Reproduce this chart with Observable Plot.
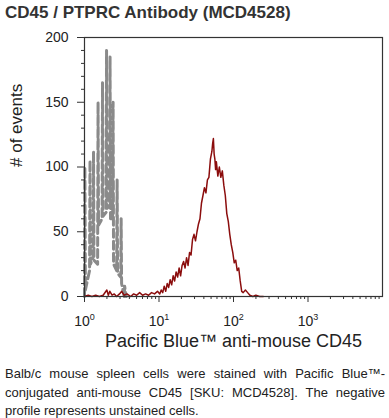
<!DOCTYPE html>
<html><head><meta charset="utf-8">
<script src="https://cdn.jsdelivr.net/npm/d3@7"></script>
<script src="https://cdn.jsdelivr.net/npm/@observablehq/plot@0.6"></script>
<style>
body{margin:0;background:#fff;font-family:"Liberation Sans",Arial,sans-serif;}
#title{font-weight:bold;font-size:17px;color:#333;padding:3px 0 0 5px;height:27px;box-sizing:border-box;}
#chart svg{display:block;}
#caption{font-size:13px;color:#222;margin:1px 4px 0 5px;line-height:18.5px;}
#caption .j{text-align:justify;text-align-last:justify;}
</style></head><body>
<div id="title">CD45 / PTPRC Antibody (MCD4528)</div>
<div id="chart"></div>
<div id="caption">
<div class="j">Balb/c mouse spleen cells were stained with Pacific Blue™-</div>
<div class="j">conjugated anti-mouse CD45 [SKU: MCD4528]. The negative</div>
<div>profile represents unstained cells.</div>
</div>
<script>
// Unstained (negative) profile: log10 fluorescence channel and event counts
const negLogX = [0.000,0.005,0.012, 0.068,0.074,0.080, 0.115,0.121,0.127, 0.176,0.182,0.188, 0.236,0.242,0.248, 0.290,0.296,0.302, 0.337,0.343,0.349, 0.378,0.384,0.390, 0.432,0.438,0.444, 0.486,0.492,0.498, 0.533,0.539,0.560];
const negCount = [0,100,5, 20,105,25, 30,112,28, 25,150,55, 60,165,62, 65,190,68, 70,185,60, 60,150,25, 20,90,18, 15,60,10, 0,8,0];

// Stained (Pacific Blue anti-mouse CD45) profile
const posLogX = [0.00,0.05,0.10,0.15,0.20,0.25,0.30,0.32,0.34,0.37,0.40,0.43,0.47,0.50,0.53,0.57,0.62,0.66,0.70,0.74,0.78,0.82,0.86,0.90,0.94,0.98,1.01,1.03,1.05,1.07,1.09,1.11,1.13,1.15,1.17,1.19,1.21,1.23,1.25,1.27,1.29,1.31,1.33,1.35,1.37,1.39,1.41,1.43,1.45,1.47,1.49,1.51,1.53,1.55,1.57,1.59,1.61,1.63,1.65,1.67,1.69,1.71,1.72,1.73,1.74,1.75,1.76,1.77,1.79,1.81,1.83,1.85,1.87,1.89,1.91,1.93,1.95,1.97,1.99,2.01,2.03,2.05,2.07,2.09,2.11,2.13,2.16,2.19,2.22,2.26,2.30,2.35,2.40];
const posCount = [0,1,0,1,0,1,5,1,4,1,2,0,2,4,1,2,0,2,1,3,1,2,1,3,2,4,2,5,3,8,4,10,7,13,9,16,12,19,15,22,16,24,27,22,30,24,34,32,44,48,43,50,56,60,72,78,84,80,90,92,106,112,118,122,110,106,98,104,93,100,92,97,86,78,64,58,48,40,34,26,28,20,22,12,4,3,5,3,1,0,1,0,0];

const xMajorTicks = [1, 10, 100, 1000];
const xMinorTicks = [2,3,4,5,6,7,8,9,20,30,40,50,60,70,80,90,200,300,400,500,600,700,800,900,2000,3000,4000,5000,6000,7000,8000,9000];
const yMajorTicks = [0, 50, 100, 150, 200];
const yMinorTicks = [10,20,30,40,60,70,80,90,110,120,130,140,160,170,180,190];
const xLabel = "Pacific Blue™ anti-mouse CD45";
const yLabel = "# of events";

const neg = negLogX.map((l, i) => ({x: 10 ** l, y: negCount[i]}));
const pos = posLogX.map((l, i) => ({x: 10 ** l, y: posCount[i]}));

const plot = Plot.plot({
  width: 389,
  height: 337,
  marginTop: 10,
  marginLeft: 84,
  marginRight: 7,
  marginBottom: 68,
  style: {fontFamily: "'Liberation Sans', Arial, sans-serif", fontSize: "14px", color: "#222", background: "#fff"},
  x: {type: "log", domain: [1, 10000]},
  y: {domain: [0, 200]},
  marks: [
    Plot.line(neg, {x: "x", y: "y", stroke: "#8a8a8a", strokeWidth: 3, strokeDasharray: "8,4"}),
    Plot.line(pos, {x: "x", y: "y", stroke: "#8b0d0d", strokeWidth: 1.5}),
    Plot.frame({stroke: "#333", strokeWidth: 1.2}),
    Plot.axisY({ticks: yMajorTicks, tickSize: 7, tickPadding: 9, label: null, stroke: "#333"}),
    Plot.axisY({ticks: yMinorTicks, tickSize: 3, tickFormat: () => "", label: null, stroke: "#333"}),
    Plot.axisX({ticks: xMajorTicks, tickSize: 6, tickPadding: 14, label: null, stroke: "#333",
      tickFormat: d => String(Math.round(Math.log10(d)))}),
    Plot.axisX({ticks: xMinorTicks, tickSize: 3, tickFormat: () => "", label: null, stroke: "#333"}),
    Plot.text([xLabel], {frameAnchor: "bottom", dy: 45, fontSize: 18, fill: "#222", lineAnchor: "middle"}),
    Plot.text([yLabel], {frameAnchor: "left", dx: -68, rotate: -90, fontSize: 17, fill: "#222", lineAnchor: "middle"})
  ]
});
document.getElementById("chart").append(plot);

// render exponents as superscripts
plot.querySelectorAll('g[aria-label="x-axis tick label"] text').forEach(t => {
  const n = t.textContent;
  if (n === "") return;
  t.textContent = "10";
  const ts = document.createElementNS("http://www.w3.org/2000/svg", "tspan");
  ts.setAttribute("dy", "-6");
  ts.setAttribute("font-size", "9");
  ts.textContent = n;
  t.appendChild(ts);
});
</script>
</body></html>
